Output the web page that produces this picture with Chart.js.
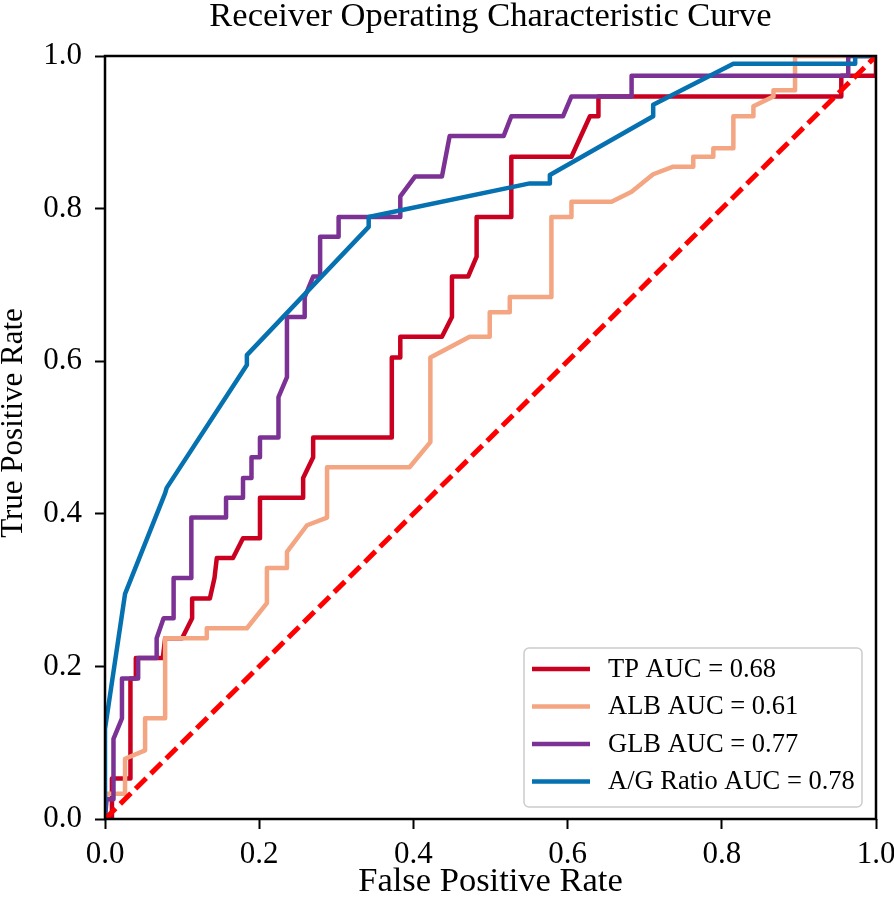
<!DOCTYPE html>
<html>
<head>
<meta charset="utf-8">
<script src="https://cdn.jsdelivr.net/npm/chart.js@4/dist/chart.umd.min.js"></script>
<style>
  html, body { margin: 0; padding: 0; background: #fff; }
  #wrap { width: 894px; height: 906px; }
</style>
</head>
<body>
<div id="wrap"><canvas id="rocChart" width="894" height="906"></canvas></div>
<script>
// ROC curves
var tpFpr = [0, 0.009, 0.009, 0.033, 0.033, 0.04, 0.04, 0.075, 0.078, 0.1, 0.113, 0.113, 0.136, 0.142, 0.145, 0.166, 0.179, 0.201, 0.201, 0.257, 0.257, 0.27, 0.27, 0.372, 0.372, 0.383, 0.383, 0.437, 0.45, 0.45, 0.471, 0.482, 0.482, 0.527, 0.527, 0.605, 0.629, 0.64, 0.64, 0.955, 0.955, 1, 1];
var tpTpr = [0, 0, 0.053, 0.053, 0.184, 0.184, 0.211, 0.211, 0.237, 0.237, 0.263, 0.289, 0.289, 0.316, 0.342, 0.342, 0.368, 0.368, 0.421, 0.421, 0.447, 0.474, 0.5, 0.5, 0.605, 0.605, 0.632, 0.632, 0.658, 0.711, 0.711, 0.737, 0.789, 0.789, 0.868, 0.868, 0.921, 0.921, 0.947, 0.947, 0.974, 0.974, 1];

var albFpr = [0, 0.002, 0.026, 0.026, 0.052, 0.052, 0.078, 0.078, 0.132, 0.132, 0.184, 0.21, 0.21, 0.236, 0.236, 0.262, 0.288, 0.288, 0.395, 0.422, 0.422, 0.473, 0.499, 0.499, 0.525, 0.525, 0.579, 0.579, 0.605, 0.605, 0.657, 0.683, 0.711, 0.737, 0.763, 0.763, 0.789, 0.789, 0.815, 0.815, 0.841, 0.841, 0.867, 0.867, 0.895, 0.895, 1];
var albTpr = [0, 0.033, 0.033, 0.079, 0.09, 0.132, 0.132, 0.237, 0.237, 0.25, 0.25, 0.283, 0.329, 0.329, 0.35, 0.385, 0.395, 0.461, 0.461, 0.494, 0.605, 0.632, 0.632, 0.664, 0.664, 0.684, 0.684, 0.789, 0.789, 0.809, 0.809, 0.822, 0.845, 0.855, 0.855, 0.868, 0.868, 0.879, 0.879, 0.921, 0.921, 0.934, 0.947, 0.955, 0.955, 1, 1];

var glbFpr = [0, 0.002, 0.011, 0.011, 0.022, 0.022, 0.043, 0.043, 0.067, 0.067, 0.076, 0.089, 0.089, 0.112, 0.112, 0.157, 0.157, 0.179, 0.179, 0.19, 0.19, 0.201, 0.201, 0.225, 0.225, 0.236, 0.236, 0.259, 0.259, 0.27, 0.279, 0.279, 0.303, 0.303, 0.383, 0.383, 0.402, 0.437, 0.447, 0.517, 0.527, 0.594, 0.605, 0.683, 0.683, 0.964, 0.964, 1];
var glbTpr = [0, 0.026, 0.026, 0.105, 0.132, 0.184, 0.184, 0.211, 0.211, 0.237, 0.263, 0.263, 0.316, 0.316, 0.395, 0.395, 0.421, 0.421, 0.447, 0.447, 0.474, 0.474, 0.5, 0.5, 0.553, 0.579, 0.658, 0.658, 0.684, 0.711, 0.711, 0.763, 0.763, 0.789, 0.789, 0.816, 0.842, 0.842, 0.895, 0.895, 0.921, 0.921, 0.947, 0.947, 0.974, 0.974, 1, 1];

var agFpr = [0, 0, 0.026, 0.078, 0.08, 0.184, 0.184, 0.342, 0.342, 0.551, 0.577, 0.577, 0.711, 0.711, 0.815, 0.973, 0.973, 1];
var agTpr = [0, 0.118, 0.295, 0.427, 0.434, 0.595, 0.608, 0.776, 0.789, 0.833, 0.833, 0.844, 0.921, 0.936, 0.99, 0.99, 1, 1];

var chanceFpr = [0, 1];
var chanceTpr = [0, 1];

var labels = ['TP AUC = 0.68', 'ALB AUC = 0.61', 'GLB AUC = 0.77', 'A/G Ratio AUC = 0.78'];
var colors = ['#ca0020', '#f4a582', '#7b3294', '#0571b0'];
var tickValues = [0, 0.2, 0.4, 0.6, 0.8, 1.0];

var titleText = 'Receiver Operating Characteristic Curve';
var yTitleText = 'True Positive Rate';

var serif = "'Liberation Serif', 'Times New Roman', serif";

function pts(xs, ys) {
    return xs.map(function (x, i) { return { x: x, y: ys[i] }; });
}

function curve(i, xs, ys) {
    return {
        label: labels[i],
        data: pts(xs, ys),
        borderColor: colors[i],
        backgroundColor: colors[i],
        borderWidth: 4.5,
        pointRadius: 0,
        tension: 0,
        fill: false,
        clip: 0,
        borderJoinStyle: 'round',
        order: 4 - i
    };
}

// frame round the plot (matplotlib spines)
var framePlugin = {
    id: 'frame',
    afterDatasetsDraw: function (chart) {
        var a = chart.chartArea, c = chart.ctx;
        c.save();
        c.strokeStyle = '#000';
        c.lineWidth = 2.5;
        c.strokeRect(a.left, a.top, a.right - a.left, a.bottom - a.top);
        c.restore();
    }
};

// title over the axes centre, and the y label (matplotlib places them on the axes, not the canvas)
var titlesPlugin = {
    id: 'axesTitles',
    afterDraw: function (chart) {
        var a = chart.chartArea, c = chart.ctx;
        c.save();
        c.fillStyle = '#000';
        c.textAlign = 'center';
        c.textBaseline = 'middle';
        c.font = '34.5px ' + serif;
        c.fillText(titleText, (a.left + a.right) / 2, 17);
        c.translate(14, 423);
        c.rotate(-Math.PI / 2);
        c.font = '31px ' + serif;
        c.fillText(yTitleText, 0, 0);
        c.restore();
    }
};

// legend box in the lower right corner, inside the axes
var legendPlugin = {
    id: 'boxLegend',
    afterDraw: function (chart) {
        var c = chart.ctx;
        var a = chart.chartArea;
        var w = 338, h = 159;
        var x = a.right - 14 - w, y = a.bottom - 12 - h;
        c.save();
        c.beginPath();
        c.roundRect(x, y, w, h, 5);
        c.fillStyle = 'rgba(255,255,255,0.8)';
        c.fill();
        c.strokeStyle = '#cccccc';
        c.lineWidth = 1.5;
        c.stroke();
        c.font = '26.5px ' + serif;
        c.textBaseline = 'middle';
        c.textAlign = 'left';
        for (var i = 0; i < 4; i++) {
            var ds = chart.data.datasets[i];
            var ry = y + 21 + i * 37.5;
            c.beginPath();
            c.moveTo(x + 8, ry);
            c.lineTo(x + 66, ry);
            c.strokeStyle = ds.borderColor;
            c.lineWidth = 4.5;
            c.stroke();
            c.fillStyle = '#000';
            c.fillText(ds.label, x + 84, ry + 1);
        }
        c.restore();
    }
};

var tickGrid = {
    display: true,
    drawOnChartArea: false,
    drawTicks: true,
    tickLength: 10,
    tickWidth: 2,
    tickColor: '#000'
};

var ctx = document.getElementById('rocChart').getContext('2d');
var rocChart = new Chart(ctx, {
    type: 'line',
    data: {
        datasets: [
            curve(0, tpFpr, tpTpr),
            curve(1, albFpr, albTpr),
            curve(2, glbFpr, glbTpr),
            curve(3, agFpr, agTpr),
            {
                label: 'chance',
                data: pts(chanceFpr, chanceTpr),
                borderColor: '#ff0000',
                borderWidth: 5,
                borderDash: [15, 6.5],
                pointRadius: 0,
                fill: false,
                clip: 0,
                order: 0
            }
        ]
    },
    options: {
        responsive: false,
        animation: false,
        devicePixelRatio: 1,
        layout: {
            padding: { left: 0, right: 18, top: 56, bottom: 0 }
        },
        plugins: {
            legend: { display: false },
            tooltip: { enabled: false },
            title: { display: false }
        },
        scales: {
            x: {
                type: 'linear',
                min: 0,
                max: 1,
                afterFit: function (s) {
                    s.height = 87;
                    s.paddingLeft = 0;
                    s.paddingRight = 0;
                },
                afterBuildTicks: function (s) {
                    s.ticks = tickValues.map(function (v) { return { value: v }; });
                },
                grid: tickGrid,
                border: { display: false },
                ticks: {
                    color: '#000',
                    padding: 7,
                    maxRotation: 0,
                    font: { family: serif, size: 31 },
                    callback: function (v) { return Number(v).toFixed(1); }
                },
                title: {
                    display: true,
                    text: 'False Positive Rate',
                    color: '#000',
                    font: { family: serif, size: 34.5, lineHeight: 1 },
                    padding: { top: 0, bottom: 7 }
                }
            },
            y: {
                type: 'linear',
                min: 0,
                max: 1,
                afterFit: function (s) {
                    s.width = 105;
                    s.paddingTop = 0;
                    s.paddingBottom = 0;
                },
                afterBuildTicks: function (s) {
                    s.ticks = tickValues.map(function (v) { return { value: v }; });
                },
                grid: tickGrid,
                border: { display: false },
                ticks: {
                    color: '#000',
                    padding: 13,
                    font: { family: serif, size: 31 },
                    callback: function (v) { return Number(v).toFixed(1); }
                },
                title: { display: false }
            }
        }
    },
    plugins: [framePlugin, titlesPlugin, legendPlugin]
});
</script>
</body>
</html>
